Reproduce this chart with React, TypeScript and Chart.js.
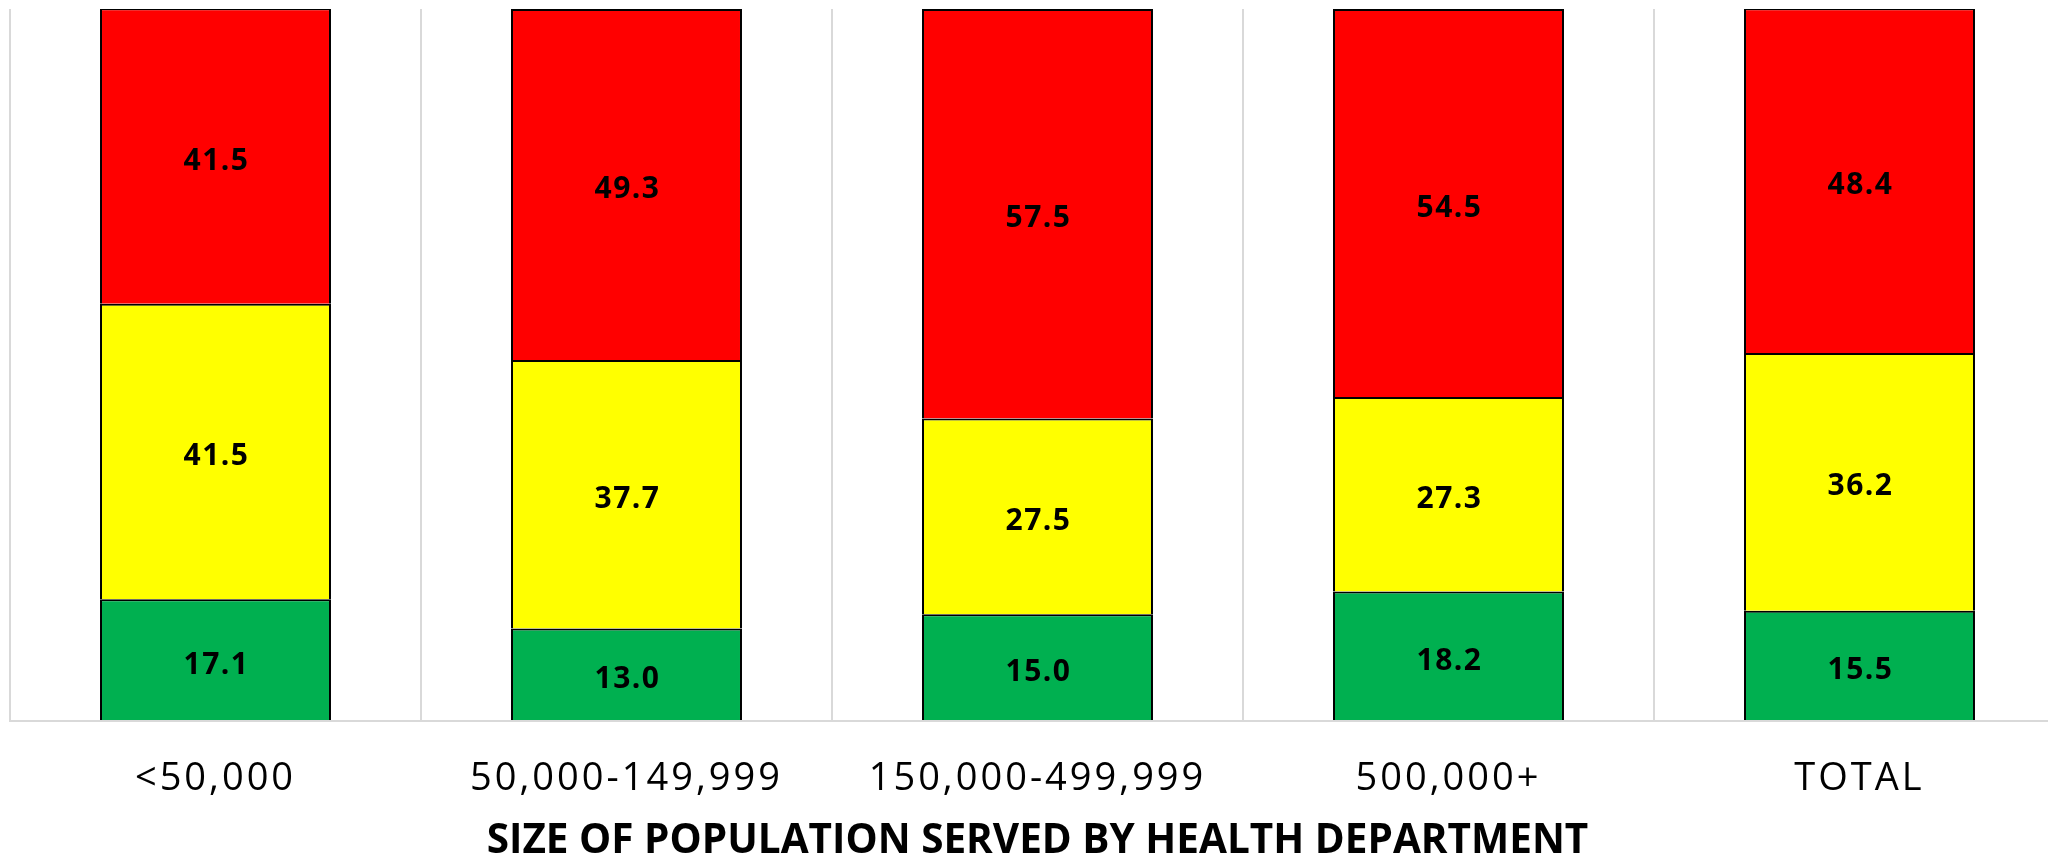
import React, { useEffect, useRef } from "react";
import { Chart, registerables } from "chart.js";

Chart.register(...registerables);

const categories = ["<50,000", "50,000-149,999", "150,000-499,999", "500,000+", "TOTAL"];
const greenValues = [17.1, 13.0, 15.0, 18.2, 15.5];
const yellowValues = [41.5, 37.7, 27.5, 27.3, 36.2];
const redValues = [41.5, 49.3, 57.5, 54.5, 48.4];
const axisTitle = "SIZE OF POPULATION SERVED BY HEALTH DEPARTMENT";

const FONT = "'Open Sans', 'DejaVu Sans', sans-serif";

const labelPlugin = {
  id: "segmentLabels",
  afterLayout(chart: any) {
    const xs = chart.scales.x;
    if (xs && !xs.__patched) {
      const origLabels = xs.drawLabels.bind(xs);
      xs.drawLabels = (area: any) => {
        const ctx = chart.ctx;
        ctx.save();
        (ctx as any).letterSpacing = "3px";
        origLabels(area);
        ctx.restore();
      };
      const origTitle = xs.drawTitle.bind(xs);
      xs.drawTitle = (area: any) => {
        const ctx = chart.ctx;
        ctx.save();
        (ctx as any).letterSpacing = "0px";
        origTitle(area);
        ctx.restore();
      };
      xs.__patched = true;
    }
  },
  afterDatasetsDraw(chart: any) {
    const ctx = chart.ctx;
    ctx.save();
    ctx.font = `bold 30px ${FONT}`;
    (ctx as any).letterSpacing = "1.5px";
    ctx.fillStyle = "#000000";
    ctx.textAlign = "center";
    ctx.textBaseline = "middle";
    chart.data.datasets.forEach((ds: any, di: number) => {
      const meta = chart.getDatasetMeta(di);
      meta.data.forEach((el: any, i: number) => {
        const { x, y, base } = el.getProps(["x", "y", "base"], true);
        const v = ds.data[i];
        ctx.fillText(Number(v).toFixed(1), x + 1, (y + base) / 2 + 5);
      });
    });
    ctx.restore();
  },
};

export default function App() {
  const ref = useRef<HTMLCanvasElement | null>(null);

  useEffect(() => {
    document.body.style.margin = "0";
    const canvas = ref.current;
    if (!canvas) return;
    const chart = new Chart(canvas, {
      type: "bar",
      data: {
        labels: categories,
        datasets: [
          {
            label: "Green",
            data: greenValues,
            backgroundColor: "#00B050",
            borderColor: "#000000",
            borderWidth: 2,
          },
          {
            label: "Yellow",
            data: yellowValues,
            backgroundColor: "#FFFF00",
            borderColor: "#000000",
            borderWidth: 2,
          },
          {
            label: "Red",
            data: redValues,
            backgroundColor: "#FF0000",
            borderColor: "#000000",
            borderWidth: 2,
          },
        ],
      },
      options: {
        responsive: false,
        animation: false,
        devicePixelRatio: 1,
        layout: { padding: { left: 10, right: 15, top: 9, bottom: 0 } },
        datasets: {
          bar: { categoryPercentage: 0.562, barPercentage: 1 },
        },
        plugins: {
          legend: { display: false },
          tooltip: { enabled: false },
        },
        scales: {
          x: {
            stacked: true,
            grid: {
              display: true,
              color: "#d9d9d9",
              lineWidth: 2,
              drawTicks: false,
              offset: true,
            },
            border: { display: true, color: "#d9d9d9", width: 2, z: 1 },
            ticks: {
              color: "#000000",
              padding: 35,
              font: { family: FONT, size: 38, weight: "normal" },
              maxRotation: 0,
              autoSkip: false,
            },
            title: {
              display: true,
              text: axisTitle,
              color: "#000000",
              font: { family: FONT, size: 40.5, weight: "bold", lineHeight: 0.8 },
              padding: { top: 0, bottom: 1 },
            },
            afterFit(scale: any) {
              scale.height = 138;
            },
          },
          y: {
            stacked: true,
            display: false,
            min: 0,
            max: 100,
          },
        },
      },
      plugins: [labelPlugin],
    });
    return () => chart.destroy();
  }, []);

  return (
    <div style={{ width: 2048, height: 859, overflow: "hidden", position: "relative" }}>
      <canvas ref={ref} width={2080} height={859} style={{ width: 2080, height: 859, display: "block" }} />
    </div>
  );
}
